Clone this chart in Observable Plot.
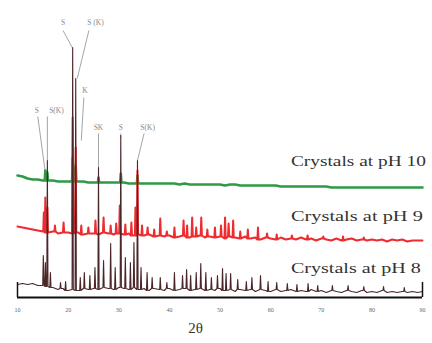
<!DOCTYPE html>
<html>
<head>
<meta charset="utf-8">
<script src="https://cdn.jsdelivr.net/npm/d3@7"></script>
<script src="https://cdn.jsdelivr.net/npm/@observablehq/plot@0.6"></script>
<style>
  html, body { margin: 0; padding: 0; background: #fff; }
  #chart { width: 432px; height: 343px; }
</style>
</head>
<body>
<div id="chart"></div>
<script>
// 2θ grid (degrees) for background readings
const theta = d3.range(10, 91);
const xTicks = [10, 20, 30, 40, 50, 60, 70, 80, 90];

// background intensity (a.u.) at each degree, 10..90
const baseGreen = [122,121,119,118,118,117,117,117,116,116,116,116,116,116,115,115,115,115,115,115,115,115,114,114,114,114,114,114,114,114,114,114,113,114,113,113,113,113,113,113,113,112,113,113,112,112,112,112,112,112,112,112,111,111,111,111,111,111,111,111,111,111,110,110,110,110,110,110,110,110,110,110,110,110,110,110,110,110,110,110,110];
const baseRed = [71,70,69,68,67,66,65,66,64,65,65,64,65,63,64,64,63,65,64,63,64,63,64,62,63,62,63,61,62,61,62,60,61,62,60,61,62,60,61,60,61,59,61,60,59,61,59,60,58,60,59,58,60,58,59,58,60,58,59,57,59,58,57,59,57,58,59,57,58,57,58,57,58,56,58,57,58,56,57,57,57];
const baseBlack = [13,14,13,14,12,12,11,10,8,9,7,8,7,9,8,9,8,10,9,8,10,9,8,10,8,9,7,9,8,7,9,7,8,9,7,8,9,7,8,7,9,7,8,6,8,7,8,6,8,7,6,8,6,7,8,6,7,6,8,6,7,5,7,6,5,7,6,5,7,5,6,5,7,5,6,5,6,5,6,5,6];

// diffraction peaks: [2θ, peak-top intensity]
const peaksGreen = [[15.5,127],[15.9,125],[20.9,140],[21.5,132],[26.0,120],[30.4,124],[33.7,122]];
const peaksRed = [[15.2,85],[15.5,100],[15.9,90],[17.4,72],[19.1,75],[20.9,180],[21.5,150],[22.6,72],[24.0,70],[25.4,77],[27.0,80],[28.4,72],[29.5,74],[30.2,92],[31.3,73],[32.5,75],[33.3,90],[33.7,127],[34.6,72],[35.7,70],[37.0,68],[38.2,79],[39.5,66],[41.0,70],[42.8,77],[43.5,72],[44.5,80],[45.3,70],[46.3,80],[47.5,68],[49.0,70],[50.2,72],[51.0,80],[51.7,74],[52.6,77],[54.0,66],[55.5,68],[57.5,70],[59.3,64],[61.2,63],[64.2,62],[67.3,62],[70.4,61],[74.3,61],[78.4,60]];
const peaksBlack = [[15.1,42],[15.5,35],[15.9,137],[16.5,25],[18.5,15],[19.5,16],[20.9,250],[21.5,219],[22.4,20],[23.2,25],[24.3,22],[25.3,30],[26.0,130],[27.0,37],[28.4,54],[29.3,30],[30.4,162],[31.3,40],[32.3,35],[33.0,55],[33.7,137],[34.4,30],[35.6,25],[36.6,20],[38.2,20],[39.5,15],[41.0,25],[42.6,22],[43.4,28],[44.2,22],[45.3,25],[46.2,34],[47.2,25],[48.3,20],[49.5,22],[50.5,29],[51.2,24],[52.1,24],[53.5,18],[55.2,16],[56.3,20],[58.0,22],[59.5,16],[61.2,15],[63.3,14],[65.2,13],[67.4,14],[69.3,12],[72.2,12],[75.3,12],[78.4,11],[82.3,11],[86.4,10]];

// series names & labels
const seriesNames = ["pH 10", "pH 9", "pH 8"];
const seriesLabels = ["Crystals at pH 10", "Crystals at pH 9", "Crystals at pH 8"];
const seriesLabelTheta = [64.0, 64.0, 64.0];
const seriesLabelI = [132, 77, 25];

// phase annotations
const annText = ["S", "S (K)", "K", "S", "S(K)", "SK", "S", "S(K)"];
const annTheta = [19.0, 25.4, 23.3, 13.8, 17.7, 26.0, 30.4, 35.7];
const annI = [275, 275, 207, 187, 187, 170, 170, 170];
// leader lines: [2θ1, I1, 2θ2, I2]
const leaders = [[19.0,267,20.8,250],[24.1,267,21.8,219],[23.1,200,22.6,157],[14.0,181,15.5,125],[15.9,181,15.9,137],[26.0,164,26.0,130],[30.4,164,30.4,160],[35.0,164,33.7,137]];

const W = 0.12;
function buildSeries(name, base, peaks) {
  const bg = theta.map((t, i) => ({t, I: base[i]}))
    .filter(p => !peaks.some(([pt]) => Math.abs(pt - p.t) <= W));
  const pk = peaks.flatMap(([pt, top]) => {
    const b = base[Math.round(pt) - 10];
    return [{t: pt - W, I: b}, {t: pt, I: top}, {t: pt + W, I: b}];
  });
  return [...bg, ...pk].sort((a, b) => a.t - b.t).map(d => ({...d, series: name}));
}

const green = buildSeries(seriesNames[0], baseGreen, peaksGreen);
const red = buildSeries(seriesNames[1], baseRed, peaksRed);
const black = buildSeries(seriesNames[2], baseBlack, peaksBlack);

const labelRows = seriesLabels.map((s, i) => ({s, t: seriesLabelTheta[i], I: seriesLabelI[i]}));
const annRows = annText.map((s, i) => ({s, t: annTheta[i], I: annI[i]}));
const leaderRows = leaders.map(([x1, y1, x2, y2]) => ({x1, y1, x2, y2}));

const chart = Plot.plot({
  width: 432,
  height: 343,
  marginLeft: 17,
  marginRight: 10,
  marginTop: 0,
  marginBottom: 46,
  x: {domain: [10, 90]},
  y: {domain: [0, 297], axis: null},
  style: {background: "white", fontFamily: "'Liberation Serif', serif"},
  marks: [
    Plot.axisX(xTicks, {tickSize: 0, tickPadding: 10, fontSize: 6, fill: "#666", label: null}),
    Plot.link(leaderRows, {x1: "x1", y1: "y1", x2: "x2", y2: "y2", stroke: "#9a9a9a", strokeWidth: 0.9}),
    Plot.text(annRows, {x: "t", y: "I", text: "s", fontSize: 7.5, fill: "#888", fontFamily: "'Liberation Serif', serif"}),
    Plot.line(green, {x: "t", y: "I", stroke: "#2e9a45", strokeWidth: 2.6, curve: "linear"}),
    Plot.line(red, {x: "t", y: "I", stroke: "#ee2b2e", strokeWidth: 2.0, curve: "linear"}),
    Plot.line(black, {x: "t", y: "I", stroke: "#4a2628", strokeWidth: 1.1, curve: "linear"}),
    Plot.ruleY([0], {stroke: "#111", strokeWidth: 2}),
    Plot.ruleX([10, 90], {y1: 0, y2: 15, stroke: "#111", strokeWidth: 1.5}),
    Plot.text(labelRows, {x: "t", y: "I", text: "s", textAnchor: "start", lineAnchor: "bottom", fontSize: 14, fill: "#333", className: "series-label"}),
    Plot.text(["2θ"], {x: 45.2, y: -31, text: d => d, fontSize: 15, fill: "#333", fontFamily: "'Liberation Serif', serif"})
  ]
});

d3.select(chart).selectAll(".series-label text").each(function(d, i) {
  const lens = [135, 132, 130];
  this.setAttribute("textLength", lens[i] ?? 130);
  this.setAttribute("lengthAdjust", "spacingAndGlyphs");
});

document.getElementById("chart").appendChild(chart);
</script>
</body>
</html>
